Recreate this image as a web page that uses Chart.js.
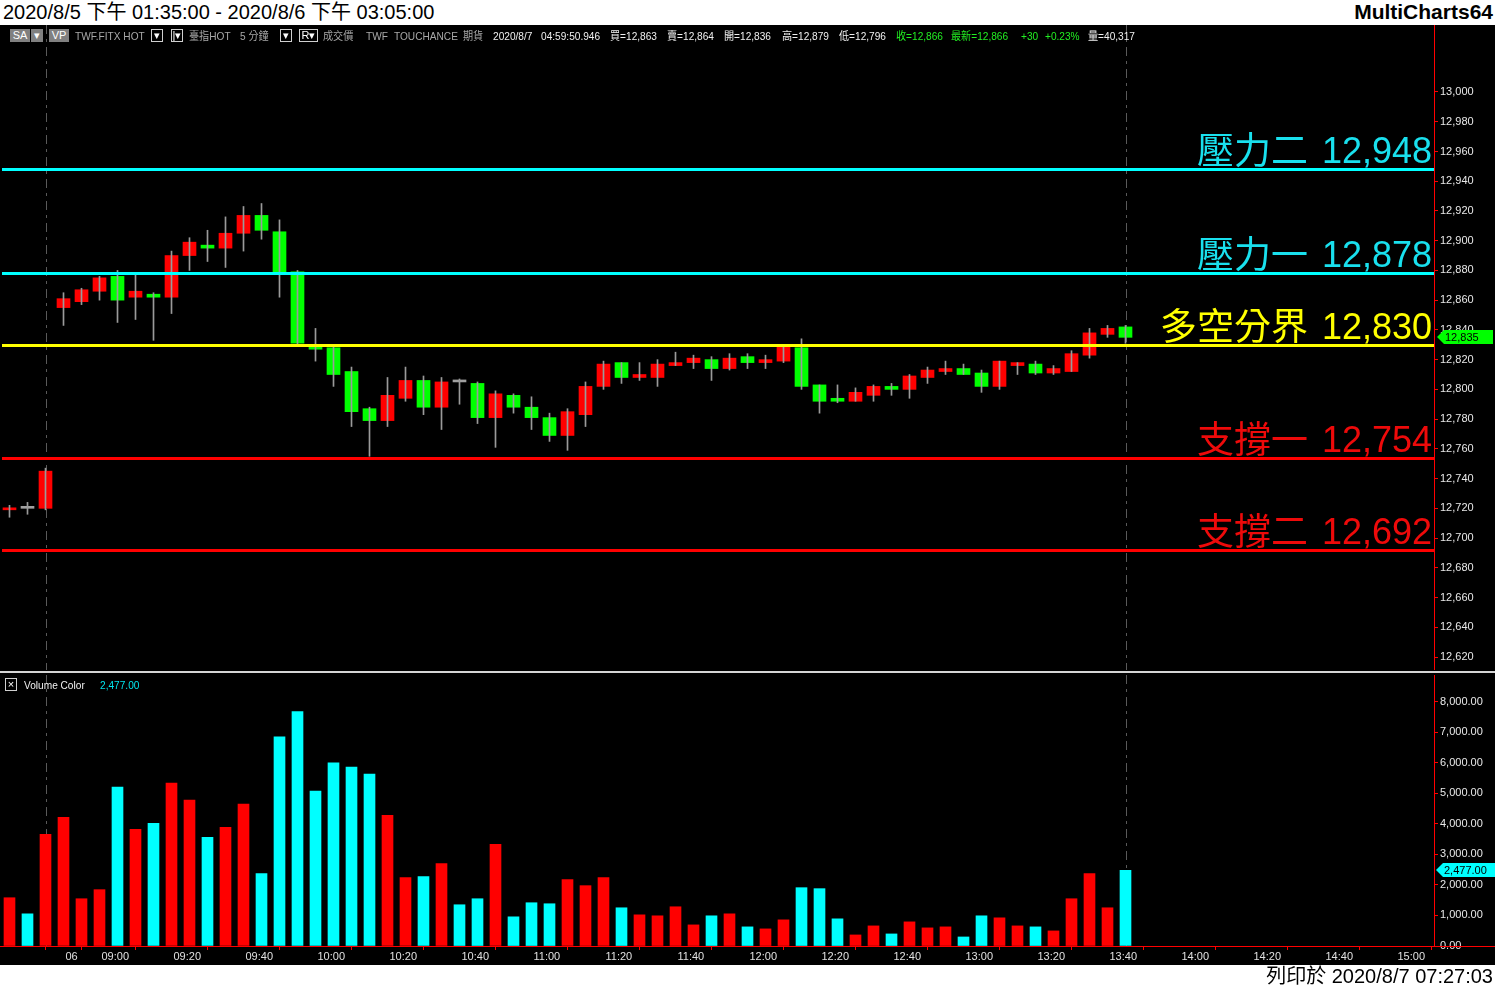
<!DOCTYPE html>
<html lang="zh-Hant">
<head>
  <meta charset="UTF-8">
  <title>臺指HOT 5 分鐘</title>
  <script src="https://cdn.jsdelivr.net/npm/chart.js"></script>
  <style>
    html, body { margin: 0; padding: 0; }
    body {
      width: 1495px; height: 988px;
      background: #fff; position: relative; overflow: hidden;
      font-family: 'Liberation Sans', Arial, 'Noto Sans CJK TC', sans-serif;
    }
    #title { position: absolute; left: 3px; top: 0px; font-size: 20px; color: #000; line-height: 24px; }
    #brand { position: absolute; right: 2px; top: 0px; font-size: 21px; font-weight: bold; color: #000; line-height: 24px; }
    #footer { position: absolute; right: 2px; top: 964px; font-size: 20px; color: #000; line-height: 24px; }
    #pricePane { position: absolute; left: 0; top: 25px; width: 1495px; height: 645px; background: #000; }
    #sep { position: absolute; left: 0; top: 670px; width: 1495px; height: 5px; background: #000; }
    #sep div { position: absolute; left: 0; right: 0; top: 1px; height: 2px; background: #d4d4d4; }
    #volPane { position: absolute; left: 0; top: 675px; width: 1495px; height: 290px; background: #000; }
    .t { position: absolute; font-size: 11px; line-height: 12px; white-space: nowrap; color: #a8a8a8;
         transform: scaleX(0.92); transform-origin: left center; }
    .w { color: #f0f0f0; }
    .g { color: #22ee22; }
    .c { color: #00e5ee; }
    .box { height: 11px; line-height: 11px; text-align: center; border: 1px solid #d0d0d0; color: #fff; transform: none; }
    .grey { background: #808080; border-color: #808080; }
  </style>
</head>
<body>
  <div id="title">2020/8/5 下午 01:35:00 - 2020/8/6 下午 03:05:00</div>
  <div id="brand">MultiCharts64</div>

  <div id="pricePane"><canvas id="priceChart"></canvas></div>
  <div id="sep"><div></div></div>
  <div id="volPane"><canvas id="volChart"></canvas></div>

  <!-- info line -->
  <span class="t box grey" style="left:10px;top:29px;width:18px">SA</span>
  <span class="t box grey" style="left:31px;top:29px;width:10px">▾</span>
  <span class="t box grey" style="left:49px;top:29px;width:18px">VP</span>
  <span class="t" style="left:75px;top:30px">TWF.FITX HOT</span>
  <span class="t box" style="left:151px;top:29px;width:10px">▾</span>
  <span class="t box" style="left:171px;top:29px;width:10px">|▾</span>
  <span class="t" style="left:189px;top:30px">臺指HOT</span>
  <span class="t" style="left:240px;top:30px">5 分鐘</span>
  <span class="t box" style="left:280px;top:29px;width:10px">▾</span>
  <span class="t box" style="left:299px;top:29px;width:17px">R▾</span>
  <span class="t" style="left:323px;top:30px">成交價</span>
  <span class="t" style="left:366px;top:30px">TWF</span>
  <span class="t" style="left:394px;top:30px">TOUCHANCE</span>
  <span class="t" style="left:463px;top:30px">期貨</span>
  <span class="t w" style="left:493px;top:30px">2020/8/7</span>
  <span class="t w" style="left:541px;top:30px">04:59:50.946</span>
  <span class="t w" style="left:610px;top:30px">買=12,863</span>
  <span class="t w" style="left:667px;top:30px">賣=12,864</span>
  <span class="t w" style="left:724px;top:30px">開=12,836</span>
  <span class="t w" style="left:782px;top:30px">高=12,879</span>
  <span class="t w" style="left:839px;top:30px">低=12,796</span>
  <span class="t g" style="left:896px;top:30px">收=12,866</span>
  <span class="t g" style="left:951px;top:30px">最新=12,866</span>
  <span class="t g" style="left:1021px;top:30px">+30</span>
  <span class="t g" style="left:1045px;top:30px">+0.23%</span>
  <span class="t w" style="left:1088px;top:30px">量=40,317</span>

  <!-- volume header -->
  <span class="t box" style="left:5px;top:678px;width:10px;color:#fff">×</span>
  <span class="t w" style="left:24px;top:679px">Volume Color</span>
  <span class="t c" style="left:100px;top:679px">2,477.00</span>

  <div id="footer">列印於 2020/8/7 07:27:03</div>

  <script>
    // 5 分鐘 K 線 (bar index 0..62)
    const opens  = [12719,12720,12720,12855,12859,12866,12876,12862,12864,12862,12890,12897,12895,12905,12917,12906,12879,12830,12828,12812,12787,12779,12794,12806,12788,12805,12804,12781,12796,12788,12781,12769,12783,12802,12818,12808,12808,12816,12818,12820,12814,12822,12818,12819,12828,12803,12794,12792,12796,12802,12800,12808,12812,12814,12811,12802,12816,12817,12811,12812,12823,12837,12842];
    const highs  = [12722,12724,12747,12865,12868,12876,12880,12878,12865,12893,12902,12907,12916,12923,12925,12914,12880,12841,12829,12815,12788,12808,12815,12809,12808,12807,12805,12799,12797,12795,12784,12787,12805,12819,12818,12818,12820,12825,12823,12822,12824,12824,12823,12830,12834,12803,12803,12801,12803,12804,12810,12815,12819,12817,12813,12819,12818,12819,12816,12826,12841,12843,12843];
    const lows   = [12714,12716,12719,12843,12857,12860,12845,12847,12833,12851,12880,12886,12882,12893,12901,12862,12830,12819,12802,12775,12755,12775,12792,12783,12773,12790,12777,12761,12784,12773,12765,12759,12775,12800,12804,12806,12802,12816,12814,12806,12813,12814,12814,12818,12800,12784,12791,12792,12792,12796,12794,12804,12810,12810,12798,12800,12810,12810,12810,12812,12821,12835,12831];
    const closes = [12720,12720,12745,12861,12867,12875,12860,12866,12862,12890,12899,12895,12905,12917,12907,12879,12831,12827,12810,12785,12779,12796,12806,12788,12805,12805,12781,12797,12788,12781,12769,12785,12802,12817,12808,12810,12817,12818,12821,12814,12821,12818,12820,12829,12802,12792,12792,12798,12802,12800,12809,12813,12814,12810,12802,12819,12818,12811,12814,12824,12838,12841,12835];
    const volumes = [1580,1053,3654,4214,1547,1844,5202,3819,4016,5333,4774,3556,3885,4642,2370,6848,7671,5070,5992,5860,5630,4280,2239,2272,2700,1350,1547,3325,955,1416,1383,2173,1975,2239,1251,1020,988,1284,691,988,1053,626,560,856,1909,1877,889,362,658,395,790,593,626,296,988,922,658,626,494,1547,2370,1251,2477];

    // 支撐 / 壓力
    const levelNames = ['壓力二', '壓力一', '多空分界', '支撐一', '支撐二'];
    const levels = [12948, 12878, 12830, 12754, 12692];

    // 軸刻度
    const priceTicks = [12620,12640,12660,12680,12700,12720,12740,12760,12780,12800,12820,12840,12860,12880,12900,12920,12940,12960,12980,13000];
    const volTicks = [0,1000,2000,3000,4000,5000,6000,7000,8000];
    const timeTickBars = [3,5,9,13,17,21,25,29,33,37,41,45,49,53,57,61,65,69,73,77];
    const timeLabels = ['06','09:00','09:20','09:40','10:00','10:20','10:40','11:00','11:20','11:40','12:00','12:20','12:40','13:00','13:20','13:40','14:00','14:20','14:40','15:00'];
    const markerBars = [2, 62];

    const bars = opens.map((_, i) => i);
    const last = bars.length - 1;

    // styles
    const UP = '#ff0000', DOWN = '#00ff00', DOJI = '#a0a0a0', WICK = '#9a9a9a';
    const VUP = '#ff0000', VDOWN = '#00ffff';
    const AXIS = '#ff0000';
    const levelColors = ['#00ffff', '#00ffff', '#ffff00', '#ff0000', '#ff0000'];
    const levelTextColors = ['#19e0ee', '#19e0ee', '#ffff00', '#ee0a0a', '#ee0a0a'];

    Chart.defaults.font.family = "'Liberation Sans', Arial, sans-serif";
    Chart.defaults.font.size = 11;
    Chart.defaults.animation = false;

    const X_MIN = -0.5 - 1 / 36;
    const X_MAX = X_MIN + 1434 / 18;

    const candleColor = i => closes[i] > opens[i] ? UP : (closes[i] < opens[i] ? DOWN : DOJI);
    const fmt = v => v.toLocaleString('en-US');
    const fmt2 = v => v.toLocaleString('en-US', { minimumFractionDigits: 2, maximumFractionDigits: 2 });

    // no label padding: chart area fills the pane
    const noPad = s => { s.paddingTop = 0; s.paddingBottom = 0; s.paddingLeft = 0; s.paddingRight = 0; };

    function drawMarkers(chart) {
      const { ctx, chartArea: a, scales: { x } } = chart;
      ctx.save();
      ctx.strokeStyle = '#5a5a5a';
      ctx.lineWidth = 1;
      ctx.setLineDash([9, 5, 3, 5]);
      markerBars.forEach(b => {
        const px = Math.round(x.getPixelForValue(b)) + 0.5;
        ctx.beginPath();
        ctx.moveTo(px, a.top);
        ctx.lineTo(px, a.bottom);
        ctx.stroke();
      });
      ctx.restore();
    }

    function drawTag(ctx, x0, y, w, color, text) {
      ctx.save();
      ctx.fillStyle = color;
      ctx.beginPath();
      ctx.moveTo(x0, y);
      ctx.lineTo(x0 + 7, y - 7);
      ctx.lineTo(x0 + w, y - 7);
      ctx.lineTo(x0 + w, y + 7);
      ctx.lineTo(x0 + 7, y + 7);
      ctx.closePath();
      ctx.fill();
      ctx.fillStyle = '#000';
      ctx.font = "11px 'Liberation Sans', Arial, sans-serif";
      ctx.textAlign = 'left';
      ctx.textBaseline = 'middle';
      ctx.fillText(text, x0 + 8, y + 1);
      ctx.restore();
    }

    const pricePlugin = {
      id: 'priceDecor',
      beforeDatasetsDraw(chart) { drawMarkers(chart); },
      afterDatasetsDraw(chart) {
        const { ctx, chartArea: a, scales: { y } } = chart;
        ctx.save();
        levels.forEach((v, k) => {
          const py = Math.round(y.getPixelForValue(v));
          ctx.fillStyle = levelColors[k];
          ctx.fillRect(a.left + 2, py - 1, a.right - a.left - 2, 3);
          ctx.fillStyle = levelTextColors[k];
          ctx.textAlign = 'right';
          ctx.textBaseline = 'alphabetic';
          const num = fmt(v);
          ctx.font = "36px 'Liberation Sans', Arial, sans-serif";
          const numX = a.right - 2;
          ctx.fillText(num, numX, py - 6);
          const nameX = numX - ctx.measureText(num).width - 14;
          ctx.font = "37px 'Noto Sans CJK TC', sans-serif";
          ctx.fillText(levelNames[k], nameX, py - 5);
        });
        ctx.restore();
      },
      afterDraw(chart) {
        const { ctx, chartArea: a, scales: { y } } = chart;
        drawTag(ctx, a.right + 3, Math.round(y.getPixelForValue(closes[last])), 56, '#00ff00', fmt(closes[last]));
      }
    };

    const volPlugin = {
      id: 'volDecor',
      beforeDatasetsDraw(chart) { drawMarkers(chart); },
      afterDraw(chart) {
        const { ctx, chartArea: a, scales: { y } } = chart;
        ctx.save();
        ctx.fillStyle = AXIS;
        ctx.fillRect(0, a.bottom, chart.width, 1);
        ctx.restore();
        drawTag(ctx, a.right + 2, Math.round(y.getPixelForValue(volumes[last])), 59, '#00ffff', fmt2(volumes[last]));
      }
    };

    const priceCtx = document.getElementById('priceChart');
    new Chart(priceCtx, {
      type: 'bar',
      data: {
        datasets: [
          {
            label: 'wick',
            data: bars.map(i => ({ x: i, y: [lows[i], highs[i]] })),
            backgroundColor: WICK,
            barThickness: 1
          },
          {
            label: 'body',
            data: bars.map(i => ({ x: i, y: [opens[i], closes[i]] })),
            backgroundColor: bars.map(candleColor),
            barThickness: 13,
            minBarLength: 2
          }
        ]
      },
      options: {
        responsive: true,
        maintainAspectRatio: false,
        datasets: { bar: { grouped: false } },
        layout: { padding: 0 },
        plugins: { legend: { display: false }, tooltip: { enabled: false } },
        scales: {
          x: { type: 'linear', min: X_MIN, max: X_MAX, offset: false, display: false },
          y: {
            position: 'right',
            min: 12611.26,
            max: 13045.06,
            afterFit: s => { s.width = 61; noPad(s); },
            afterBuildTicks: s => { s.ticks = priceTicks.map(v => ({ value: v })); },
            grid: { drawOnChartArea: false, color: AXIS, tickLength: 4 },
            border: { color: AXIS },
            ticks: { color: '#e8e8e8', padding: 2, callback: v => fmt(v) }
          }
        }
      },
      plugins: [pricePlugin]
    });

    const volCtx = document.getElementById('volChart');
    new Chart(volCtx, {
      type: 'bar',
      data: {
        datasets: [{
          label: 'Volume',
          data: bars.map(i => ({ x: i, y: volumes[i] })),
          backgroundColor: bars.map(i => closes[i] > opens[i] ? VUP : VDOWN),
          barThickness: 11
        }]
      },
      options: {
        responsive: true,
        maintainAspectRatio: false,
        layout: { padding: 0 },
        plugins: { legend: { display: false }, tooltip: { enabled: false } },
        scales: {
          x: {
            type: 'linear', min: X_MIN, max: X_MAX, offset: false,
            afterFit: s => { s.height = 19; noPad(s); },
            afterBuildTicks: s => { s.ticks = timeTickBars.map(v => ({ value: v })); },
            grid: { drawOnChartArea: false, color: AXIS, tickLength: 4 },
            border: { color: AXIS },
            ticks: {
              color: '#e0e0e0', align: 'start', labelOffset: 2, padding: 0,
              maxRotation: 0, autoSkip: false,
              callback: (v, k) => timeLabels[k]
            }
          },
          y: {
            position: 'right',
            min: 0,
            max: 8870,
            afterFit: s => { s.width = 61; noPad(s); },
            afterBuildTicks: s => { s.ticks = volTicks.map(v => ({ value: v })); },
            grid: { drawOnChartArea: false, color: AXIS, tickLength: 4 },
            border: { color: AXIS },
            ticks: { color: '#e8e8e8', padding: 2, callback: v => fmt2(v) }
          }
        }
      },
      plugins: [volPlugin]
    });
  </script>
</body>
</html>
